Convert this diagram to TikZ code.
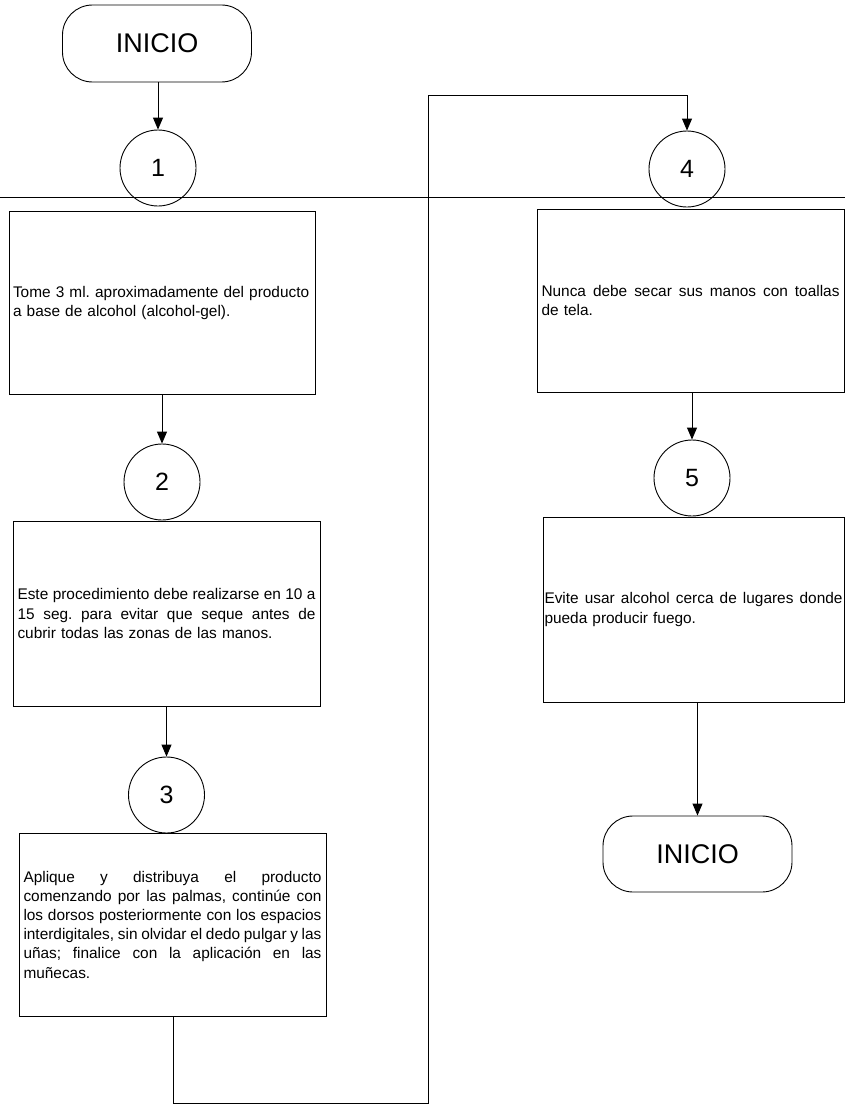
\documentclass[tikz,border=0pt]{standalone}
\usepackage{fontspec}
\setmainfont{Liberation Sans}
\usetikzlibrary{arrows.meta}
\frenchspacing
\newlength\twid
\setlength\twid{298pt}
\newcommand\jline[1]{{\spaceskip=0.278em plus 1fil minus 0.12em\relax\makebox[\twid][s]{#1}}}
\begin{document}
\begin{tikzpicture}[x=1pt,y=-1pt,
  every path/.style={line width=0.9pt},
  term/.style={draw, rectangle, rounded corners=30pt, minimum width=189pt, minimum height=77pt, inner sep=0pt, font=\fontsize{27}{30}\selectfont},
  numc/.style={draw, circle, minimum size=76pt, inner sep=0pt, font=\fontsize{25}{30}\selectfont},
  stepbox/.style={draw, rectangle, minimum height=183pt, inner sep=0pt, text width=\twid, align=left, font=\fontsize{15.4}{19.2}\selectfont\frenchspacing},
  arr/.style={-{Triangle[width=10pt,length=12pt]}}
]
\useasboundingbox (0,0) rectangle (845,1108);

\node[term] (ini1) at (157,43.5) {INICIO};
\node[numc] (c1) at (158,168) {1};
\node[stepbox, minimum width=306pt] (b1) at (162,303) {Tome 3 ml. aproximadamente del producto\\a base de alcohol (alcohol-gel).};
\node[numc] (c2) at (162,482) {2};
\node[stepbox, minimum width=307pt, minimum height=185pt] (b2) at (166.5,613.5) {\jline{Este procedimiento debe realizarse en 10 a}\\\jline{15 seg. para evitar que seque antes de}\\cubrir todas las zonas de las manos.};
\node[numc] (c3) at (166.5,795) {3};
\node[stepbox, minimum width=307pt] (b3) at (172.5,924.5) {\jline{Aplique y distribuya el producto}\\\jline{comenzando por las palmas, continúe con}\\\jline{los dorsos posteriormente con los espacios}\\\jline{interdigitales, sin olvidar el dedo pulgar y las}\\\jline{uñas; finalice con la aplicación en las}\\muñecas.};

\node[numc] (c4) at (687,169) {4};
\node[stepbox, minimum width=307pt] (b4) at (690.5,300.5) {\jline{Nunca debe secar sus manos con toallas}\\de tela.};
\node[numc] (c5) at (692,478) {5};
\node[stepbox, minimum width=301pt, minimum height=185pt] (b5) at (693.5,609.5) {\jline{Evite usar alcohol cerca de lugares donde}\\pueda producir fuego.};
\node[term, minimum height=76pt] (ini2) at (697.5,854) {INICIO};

\draw (0,197.5) -- (845,197.5);

\coordinate (k1) at (173,1103);
\coordinate (k2) at (428,1103);
\coordinate (k3) at (428,95);
\coordinate (k4) at (687,95);

\draw[arr] (ini1.south -| c1.north) -- (c1.north);
\draw[arr] (b1.south -| c2.north) -- (c2.north);
\draw[arr] (b2.south -| c3.north) -- (c3.north);
\draw[arr] (b3.south -| k1) -- (k1) -- (k2) -- (k3) -- (k4) -- (c4.north);
\draw[arr] (b4.south -| c5.north) -- (c5.north);
\draw[arr] (b5.south -| ini2.north) -- (ini2.north);
\end{tikzpicture}
\end{document}
